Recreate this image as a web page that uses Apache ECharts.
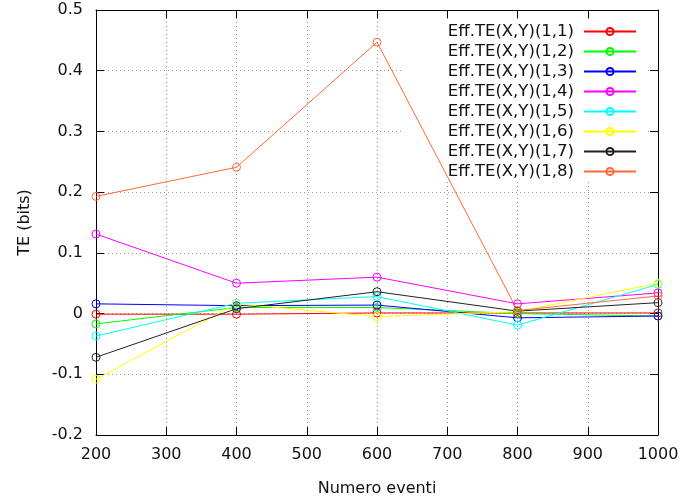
<!DOCTYPE html>
<html>
<head>
<meta charset="utf-8">
<script src="https://cdn.jsdelivr.net/npm/echarts@6/dist/echarts.min.js"></script>
<style>
  html, body { margin: 0; padding: 0; background: #fff; overflow: hidden; }
  #chart { width: 682px; height: 502px; }
</style>
</head>
<body>
<div id="chart"></div>
<script>
// Number of events on the x axis
const events = [200, 400, 600, 800, 1000];

// Effective transfer entropy per pair (bits)
const te11 = [-0.001, -0.001, 0.001, 0.001, 0.001];
const te12 = [-0.017, 0.010, 0.010, 0.000, -0.004];
const te13 = [0.016, 0.013, 0.014, -0.007, -0.004];
const te14 = [0.131, 0.050, 0.060, 0.016, 0.034];
const te15 = [-0.037, 0.017, 0.028, -0.019, 0.048];
const te16 = [-0.108, 0.016, -0.005, 0.003, 0.050];
const te17 = [-0.072, 0.008, 0.036, 0.004, 0.018];
const te18 = [0.193, 0.241, 0.447, 0.005, 0.029];

const seriesNames = [
  'Eff.TE(X,Y)(1,1)', 'Eff.TE(X,Y)(1,2)', 'Eff.TE(X,Y)(1,3)', 'Eff.TE(X,Y)(1,4)',
  'Eff.TE(X,Y)(1,5)', 'Eff.TE(X,Y)(1,6)', 'Eff.TE(X,Y)(1,7)', 'Eff.TE(X,Y)(1,8)'
];
const seriesValues = [te11, te12, te13, te14, te15, te16, te17, te18];
const seriesColors = ['#ff0000', '#00ff00', '#0000ff', '#ff00ff', '#00ffff', '#ffff00', '#222222', '#ff6a38'];

const FONT = 'DejaVu Sans';

const chart = echarts.init(document.getElementById('chart'), null, { renderer: 'canvas', width: 682, height: 502 });

const gridLine = { show: true, lineStyle: { color: '#9a9a9a', type: [1, 3], width: 1 } };

function fmtY(v) {
  const r = Math.round(v * 10) / 10;
  return r === 0 ? '0' : String(r);
}
function fmtX(v) {
  return String(Math.round(v));
}

// open circles: transparent fill, coloured outline, line visible through them
const series = seriesNames.map((name, i) => ({
  name: name,
  type: 'line',
  data: events.map((x, k) => [x, seriesValues[i][k]]),
  symbol: 'circle',
  symbolSize: 8,
  showSymbol: true,
  color: seriesColors[i],
  lineStyle: { width: 1, color: seriesColors[i] },
  itemStyle: { color: 'rgba(255,255,255,0)', borderColor: seriesColors[i], borderWidth: 1 },
  emphasis: { disabled: true },
  animation: false,
  z: 2
}));

chart.setOption({
  animation: false,
  backgroundColor: '#fff',
  grid: { left: 96, right: 24, top: 10, bottom: 66, containLabel: false },
  textStyle: { fontFamily: FONT },
  // opaque key box: hides the grid dots behind the legend, series stay on top
  graphic: [{
    type: 'rect',
    shape: { x: 404, y: 19, width: 242, height: 162 },
    style: { fill: '#ffffff' },
    z: 1,
    silent: true
  }],
  legend: {
    orient: 'vertical',
    right: 40,
    top: 18,
    align: 'right',
    itemWidth: 52,
    itemHeight: 9,
    itemGap: 3,
    selectedMode: false,
    textStyle: { fontFamily: FONT, fontSize: 16.5, color: '#111', lineHeight: 16.3, padding: [0, 5, 0, 0] },
    data: seriesNames
  },
  xAxis: [{
    type: 'value',
    min: 200, max: 1000, interval: 100,
    position: 'bottom',
    name: 'Numero eventi',
    nameLocation: 'middle',
    nameGap: 46,
    nameTextStyle: { fontFamily: FONT, fontSize: 16, color: '#111' },
    axisLine: { show: true, onZero: false, lineStyle: { color: '#000', width: 1 } },
    axisTick: { show: true, inside: true, length: 8, lineStyle: { color: '#000' } },
    axisLabel: { fontFamily: FONT, fontSize: 16, color: '#111', margin: 12, formatter: fmtX },
    splitLine: gridLine
  }, {
    type: 'value',
    min: 200, max: 1000, interval: 100,
    position: 'top',
    axisLine: { show: true, onZero: false, lineStyle: { color: '#000', width: 1 } },
    axisTick: { show: true, inside: true, length: 8, lineStyle: { color: '#000' } },
    axisLabel: { show: false },
    splitLine: { show: false }
  }],
  yAxis: [{
    type: 'value',
    min: -0.2, max: 0.5, interval: 0.1,
    position: 'left',
    name: 'TE (bits)',
    nameLocation: 'middle',
    nameRotate: 90,
    nameGap: 63,
    nameTextStyle: { fontFamily: FONT, fontSize: 16, color: '#111' },
    axisLine: { show: true, onZero: false, lineStyle: { color: '#000', width: 1 } },
    axisTick: { show: true, inside: true, length: 8, lineStyle: { color: '#000' } },
    axisLabel: { fontFamily: FONT, fontSize: 16, color: '#111', margin: 13, formatter: fmtY },
    splitLine: gridLine
  }, {
    type: 'value',
    min: -0.2, max: 0.5, interval: 0.1,
    position: 'right',
    axisLine: { show: true, onZero: false, lineStyle: { color: '#000', width: 1 } },
    axisTick: { show: true, inside: true, length: 8, lineStyle: { color: '#000' } },
    axisLabel: { show: false },
    splitLine: { show: false }
  }],
  series: series
});
</script>
</body>
</html>
